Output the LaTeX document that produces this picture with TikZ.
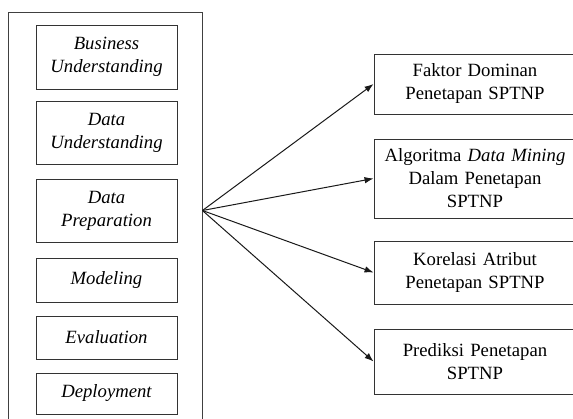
\documentclass[tikz,border=0pt]{standalone}
\usepackage{fontspec}
\setmainfont{Liberation Serif}
\usetikzlibrary{arrows.meta}
\begin{document}
\begin{tikzpicture}[x=1pt,y=-1pt,
  box/.style={draw=black!80, line width=0.9pt, inner sep=0pt, align=center, font=\fontsize{18.7}{23}\selectfont},
  lbox/.style={box, minimum width=141pt, text width=136pt, font=\fontsize{18.7}{23}\selectfont\itshape},
  rbox/.style={box, minimum width=202pt, text width=195pt},
  arr/.style={draw=black!90, line width=1pt, -{Latex[length=9pt,width=6.5pt]}}]
\useasboundingbox (0,0) rectangle (573,418);
\clip (0,0) rectangle (573,418);
\node[draw=black!75, line width=0.9pt, minimum width=194pt, minimum height=420pt, inner sep=0pt] (outer) at (105,222) {};
\node[lbox, minimum height=64pt] (b1) at (106.5,57) {Business\\Understanding};
\node[lbox, minimum height=63pt] (b2) at (106.5,132.5) {Data\\Understanding};
\node[lbox, minimum height=63pt] (b3) at (106.5,210.5) {Data\\Preparation};
\node[lbox, minimum height=44pt] (b4) at (106.5,280) {Modeling};
\node[lbox, minimum height=43pt] (b5) at (106.5,337.5) {Evaluation};
\node[lbox, minimum height=41pt] (b6) at (106.5,393.5) {Deployment};
\node[rbox, minimum height=60pt] (r1) at (475,84) {Faktor Dominan\\Penetapan SPTNP};
\node[rbox, minimum height=79pt] (r2) at (475,178.5) {Algoritma \textit{Data Mining}\\Dalam Penetapan\\SPTNP};
\node[rbox, minimum height=63pt] (r3) at (475,272.5) {Korelasi Atribut\\Penetapan SPTNP};
\node[rbox, minimum height=65pt] (r4) at (475,361.5) {Prediksi Penetapan\\SPTNP};
\coordinate (src) at (outer.east |- b3.center);
\draw[arr] (src) -- (r1.west);
\draw[arr] (src) -- (r2.west);
\draw[arr] (src) -- (r3.west);
\draw[arr] (src) -- (r4.west);
\end{tikzpicture}
\end{document}
